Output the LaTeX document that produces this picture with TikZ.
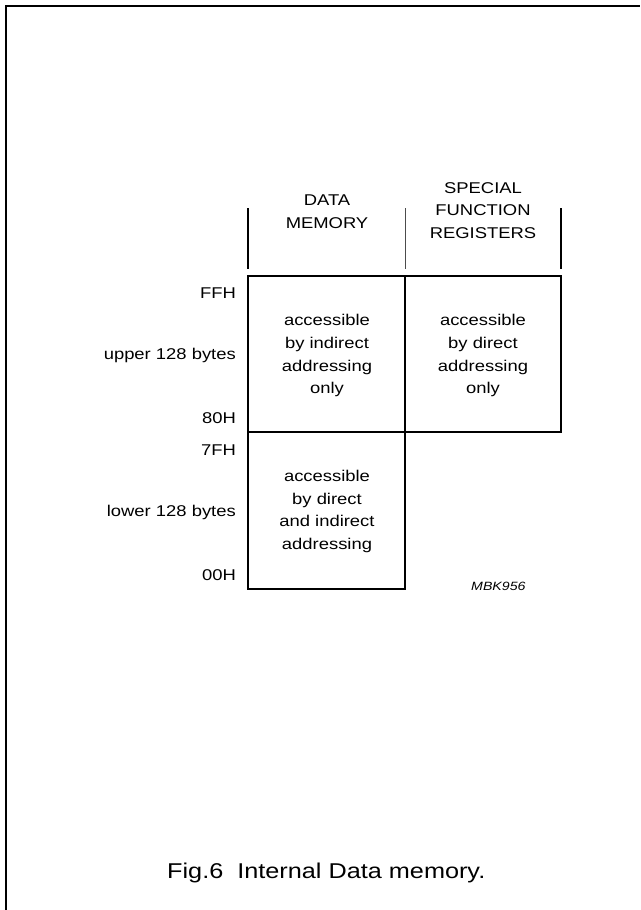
\documentclass[tikz,border=0pt]{standalone}
\usepackage{fontspec}
\setmainfont[FakeStretch=1.18]{Liberation Sans}
\begin{document}
\begin{tikzpicture}[x=1pt,y=-1pt,
  lbl/.style={font=\fontsize{15.6}{22.7}\selectfont, inner sep=0pt},
  cell/.style={font=\fontsize{15.6}{22.7}\selectfont, inner sep=0pt, align=center, anchor=base},
  frame/.style={line width=1.5pt},
  tick/.style={line width=1.1pt},
  edge/.style={line width=2pt}]
\useasboundingbox (0,0) rectangle (640,910);
% partial outer frame
\coordinate (fbl) at (5.5,910);
\coordinate (ftl) at (5.5,6);
\coordinate (ftr) at (640,6);
\draw[edge] (fbl) -- (ftl) -- (ftr);
% grid coordinates
\coordinate (a) at (248,276);
\coordinate (b) at (405,276);
\coordinate (c) at (561,276);
\coordinate (d) at (248,432);
\coordinate (e) at (405,432);
\coordinate (f) at (561,432);
\coordinate (g) at (248,589);
\coordinate (h) at (405,589);
% header ticks
\coordinate (t1a) at (248,208); \coordinate (t1b) at (248,269);
\coordinate (t2a) at (405,208); \coordinate (t2b) at (405,269);
\coordinate (t3a) at (561,208); \coordinate (t3b) at (561,269);
\draw[tick] (t1a) -- (t1b);
\draw[tick, line width=0.9pt, black!70] (t2a) -- (t2b);
\draw[tick] (t3a) -- (t3b);
% boxes
\draw[frame] (a) -- (c) -- (f) -- (d) -- cycle;
\draw[frame] (b) -- (e) -- (h) -- (g) -- (d);
% headers (anchor = baseline of last line)
\node[cell] (hdm) at (327,228.5) {DATA\\MEMORY};
\node[cell] (hsfr) at (483,238.5) {SPECIAL\\FUNCTION\\REGISTERS};
% cell texts
\node[cell] (c1) at (327,393.8) {accessible\\by indirect\\addressing\\only};
\node[cell] (c2) at (483,393.8) {accessible\\by direct\\addressing\\only};
\node[cell] (c3) at (327,549.5) {accessible\\by direct\\and indirect\\addressing};
% left labels
\node[lbl, anchor=base east] (ffh) at (236,298) {FFH};
\node[lbl, anchor=base east] (up) at (236,359.5) {upper 128 bytes};
\node[lbl, anchor=base east] (h80) at (236,423) {80H};
\node[lbl, anchor=base east] (h7f) at (236,455) {7FH};
\node[lbl, anchor=base east] (low) at (236,516.7) {lower 128 bytes};
\node[lbl, anchor=base east] (h00) at (236,580.7) {00H};
% code
\node[inner sep=0pt, anchor=base west, font=\fontsize{12}{14}\selectfont\itshape] (mbk) at (471,590) {MBK956};
% caption
\node[inner sep=0pt, anchor=base west, font=\fontsize{21.4}{25}\selectfont] (cap) at (167,878) {Fig.6~~Internal Data memory.};
\end{tikzpicture}
\end{document}
